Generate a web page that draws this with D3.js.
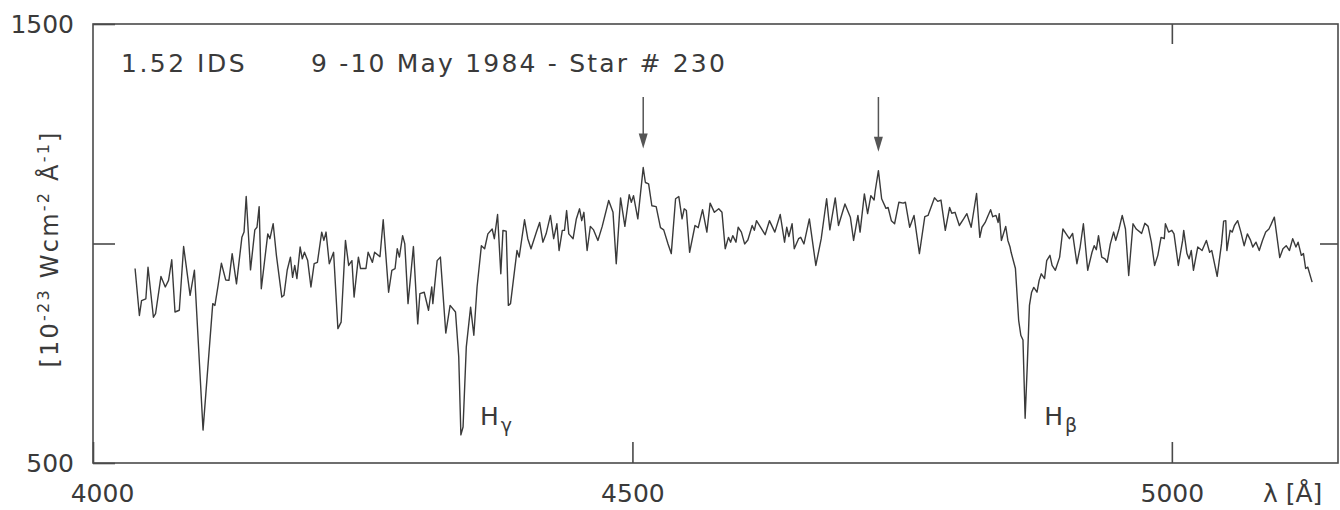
<!DOCTYPE html>
<html>
<head>
<meta charset="utf-8">
<script src="https://cdn.jsdelivr.net/npm/d3@7"></script>
<style>
body { margin: 0; background: #fff; }
svg text { font-family: "DejaVu Sans", sans-serif; fill: #3a3a3a; }
</style>
</head>
<body>
<svg id="chart" width="1340" height="510"></svg>
<script>
// wavelength [A] and flux [1e-23 W cm^-2 A^-1]
var lambda = [
 4039,4043,4045,4049,4051,4056,4058,4063,4067,4070,
 4073,4076,4080,4084,4090,4094,4102,4111,4113,4116,
 4119,4123,4126,4129,4133,4138,4140,4142,4146,4150,
 4152,4154,4156,4162,4164,4167,4170,4175,4177,4180,
 4183,4185,4187,4189,4192,4194,4196,4199,4202,4205,
 4208,4212,4214,4216,4219,4223,4227,4230,4234,4237,
 4240,4242,4246,4248,4253,4255,4259,4261,4266,4269,
 4274,4277,4280,4282,4284,4287,4289,4292,4297,4301,
 4303,4307,4311,4314,4315,4319,4322,4327,4331,4336,
 4339,4341,4343,4346,4350,4353,4356,4360,4363,4366,
 4370,4372,4375,4378,4380,4383,4385,4387,4393,4395,
 4400,4403,4406,4411,4414,4417,4420,4424,4427,4430,
 4432,4435,4437,4439,4441,4445,4448,4451,4453,4455,
 4458,4461,4464,4468,4472,4478,4482,4485,4489,4493,
 4497,4499,4501,4505,4510,4512,4515,4518,4522,4526,
 4529,4533,4536,4540,4543,4546,4548,4550,4553,4558,
 4561,4565,4569,4572,
 4576,4580,4583,4586,4589,4591,4593,4596,4598,4601,
 4604,4607,4611,4613,4615,4619,4623,4627,4632,4637,
 4641,4643,4645,4648,4650,4654,4656,4659,4664,4670,
 4675,4680,4683,4688,4691,4697,4702,4705,4709,4711,
 4715,4718,4721,4724,4725,4728,4731,4735,4737,4740,
 4743,4747,4751,4753,4757,4761,4766,4771,4774,4780,
 4783,4786,4790,4794,4796,4799,4803,4807,4810,4812,
 4814,4819,4822,4824,4827,4829,4832,4834,4837,4839,
 4840,4842,4846,4848,4850,4851,4855,
 4858,4860,4862,4864,4866,4868,4870,4872,4875,4877,
 4879,4882,4884,4887,4889,4892,4896,4899,4902,4905,
 4908,4912,4915,4918,4922,4926,4928,4930,4932,4935,
 4938,4940,4943,4946,4948,4951,4954,4957,4960,4964,
 4967,4972,4975,4978,4981,4984,4987,4990,4993,4994,
 4997,5000,5002,5006,5010,5011,5014,5016,5018,5020,
 5024,5028,5032,5035,5037,5042,5046,5048,5050,5051,
 5054,5056,5058,5061,5064,5067,5070,5073,5075,5078,
 5081,5084,5087,5090,5095,5100,5103,5106,5109,5112,
 5115,5117,5120,5122,5124,5126,5130
];
var flux = [
 943,836,870,874,946,832,840,925,901,916,
 963,844,848,993,882,939,575,863,859,905,
 955,917,916,977,908,1014,1026,1107,940,1031,
 1037,1084,897,1022,1011,1045,973,878,882,939,
 969,923,950,920,992,965,980,961,901,954,
 957,1026,1007,1026,954,980,806,821,1007,950,
 961,878,969,943,943,980,957,980,970,1054,
 889,939,943,988,969,1018,999,863,993,817,
 886,889,848,901,863,961,969,796,859,844,
 742,564,582,764,855,791,901,995,988,1022,
 1033,1011,1066,931,1030,1028,859,863,984,969,
 1054,1011,988,1026,1048,1003,1022,1064,1011,1045,
 984,1030,1030,1075,1022,1011,1056,1079,1052,1071,
 984,1039,1031,1007,1039,1098,1071,954,1104,1039,
 1111,1094,1109,1056,1173,1139,1136,1086,1084,1036,
 1031,999,977,1102,1107,1056,1079,1075,980,1041,
 1036,1077,1026,1092,
 1071,1079,1071,988,1014,1003,1018,1003,1037,1026,
 999,1008,1041,1030,1052,1036,1020,1052,1026,1066,
 1003,1037,1016,1045,988,1011,1014,999,1056,950,
 1011,1102,1031,1104,1041,1090,1060,1007,1064,1026,
 1113,1068,1109,1099,1119,1166,1102,1080,1082,1052,
 1045,1094,1092,1094,1037,1064,977,1061,1064,1104,
 1096,1099,1030,1082,1069,1071,1041,1056,1068,1052,
 1037,1114,1014,1037,1048,1060,1077,1061,1064,1048,
 1068,1007,1039,1007,992,980,943,
 825,791,780,602,723,859,889,900,889,916,
 931,920,961,973,950,939,969,1033,1022,1011,
 1023,954,992,1045,939,980,995,986,1018,969,
 965,957,999,1026,1007,1033,1064,1033,927,1045,
 1033,1023,1046,1039,1003,950,973,1014,1011,1045,
 1026,1030,1022,950,1007,1030,977,965,984,939,
 992,984,1007,980,984,925,999,1051,1052,984,
 1030,1026,1041,1052,1026,995,1022,1007,992,1003,
 984,1007,1026,1033,1060,968,988,995,984,1011,
 992,1003,973,977,943,946,912
];

var xTicks = [4000, 4500, 5000];
var yTicks = [500, 1000, 1500];
var lineNames = ["\u03b3", "\u03b2"];      // H gamma, H beta
var lineLambda = [4341, 4864];
var arrowLambda = [4510, 4728];

var svg = d3.select("#chart");
var ink = "#3a3a3a";

var x = d3.scaleLinear().domain([4000, 5154]).range([93, 1338]);
var y = d3.scaleLinear().domain([500, 1500]).range([463, 24]);

// frame
svg.append("rect")
    .attr("x", x(4000)).attr("y", y(1500))
    .attr("width", x(5154) - x(4000)).attr("height", y(500) - y(1500))
    .attr("fill", "none").attr("stroke", "#4a4a4a").attr("stroke-width", 1.6);

function styleAxis(g){
    g.select(".domain").remove();
    g.selectAll(".tick line").attr("stroke", "#4a4a4a").attr("stroke-width", 1.6);
    g.selectAll(".tick text").attr("fill", ink).style("font-size", "25px");
}

svg.append("g")
    .attr("transform", "translate(" + x(4000) + ",0)")
    .call(d3.axisLeft(y).tickValues(yTicks).tickSizeInner(-22).tickSizeOuter(0)
        .tickPadding(19).tickFormat(function(d){ return d === 1000 ? "" : d; }))
    .call(styleAxis);

var bottom = svg.append("g")
    .attr("transform", "translate(0," + y(500) + ")")
    .call(d3.axisBottom(x).tickValues(xTicks).tickSizeInner(-21).tickSizeOuter(0)
        .tickPadding(21).tickFormat(d3.format("d")))
    .call(styleAxis);
// first label sits a little right of the corner
bottom.selectAll(".tick text").filter(function(d){ return d === 4000; }).attr("x", 9);

svg.append("g")
    .attr("transform", "translate(" + x(5154) + ",0)")
    .call(d3.axisRight(y).tickValues([1000]).tickSizeInner(-18).tickSizeOuter(0).tickFormat(""))
    .call(styleAxis);

svg.append("g")
    .attr("transform", "translate(0," + y(1500) + ")")
    .call(d3.axisTop(x).tickValues([5000]).tickSizeInner(-20).tickSizeOuter(0).tickFormat(""))
    .call(styleAxis);

// axis titles
svg.append("text")
    .attr("x", 1263).attr("y", 502)
    .style("font-size", "25px")
    .text("\u03bb [\u00c5]");

var yl = svg.append("text")
    .attr("transform", "translate(58,250) rotate(-90)")
    .attr("text-anchor", "middle")
    .attr("textLength", 235).attr("lengthAdjust", "spacing")
    .style("font-size", "24px");
yl.append("tspan").text("[10");
yl.append("tspan").attr("dy", -9).style("font-size", "16px").text("-23");
yl.append("tspan").attr("dy", 9).text(" Wcm");
yl.append("tspan").attr("dy", -9).style("font-size", "16px").text("-2");
yl.append("tspan").attr("dy", 9).text(" \u00c5");
yl.append("tspan").attr("dy", -9).style("font-size", "16px").text("-1");
yl.append("tspan").attr("dy", 9).text("]");

// header
svg.append("text")
    .attr("x", 121).attr("y", 72)
    .style("font-size", "25px").style("letter-spacing", "2.5px")
    .text("1.52  IDS");
svg.append("text")
    .attr("x", 311).attr("y", 72)
    .style("font-size", "25px").style("letter-spacing", "2.2px")
    .text("9 -10 May 1984  - Star # 230");

// spectrum
var line = d3.line()
    .x(function(d){ return x(d[0]); })
    .y(function(d){ return y(d[1]); });

svg.append("path")
    .datum(d3.zip(lambda, flux))
    .attr("d", line)
    .attr("fill", "none")
    .attr("stroke", ink)
    .attr("stroke-width", 1.4)
    .attr("stroke-linejoin", "round");

// Balmer line labels
lineLambda.forEach(function(l, i){
    var t = svg.append("text")
        .attr("x", x(l) + 19).attr("y", 425)
        .style("font-size", "25px");
    t.append("tspan").text("H");
    t.append("tspan").attr("dy", 7).attr("dx", 2).style("font-size", "19px").text(lineNames[i]);
});

// arrows over the emission features
arrowLambda.forEach(function(l){
    var idx = lambda.indexOf(l);
    var cx = x(l);
    var tip = y(flux[idx]) - 19;
    svg.append("line")
        .attr("x1", cx).attr("x2", cx)
        .attr("y1", 97).attr("y2", tip - 12)
        .attr("stroke", "#555").attr("stroke-width", 1.5);
    svg.append("path")
        .attr("d", "M" + (cx - 4.5) + "," + (tip - 15) + "L" + (cx + 4.5) + "," + (tip - 15) + "L" + cx + "," + tip + "Z")
        .attr("fill", "#555");
});
</script>
</body>
</html>
